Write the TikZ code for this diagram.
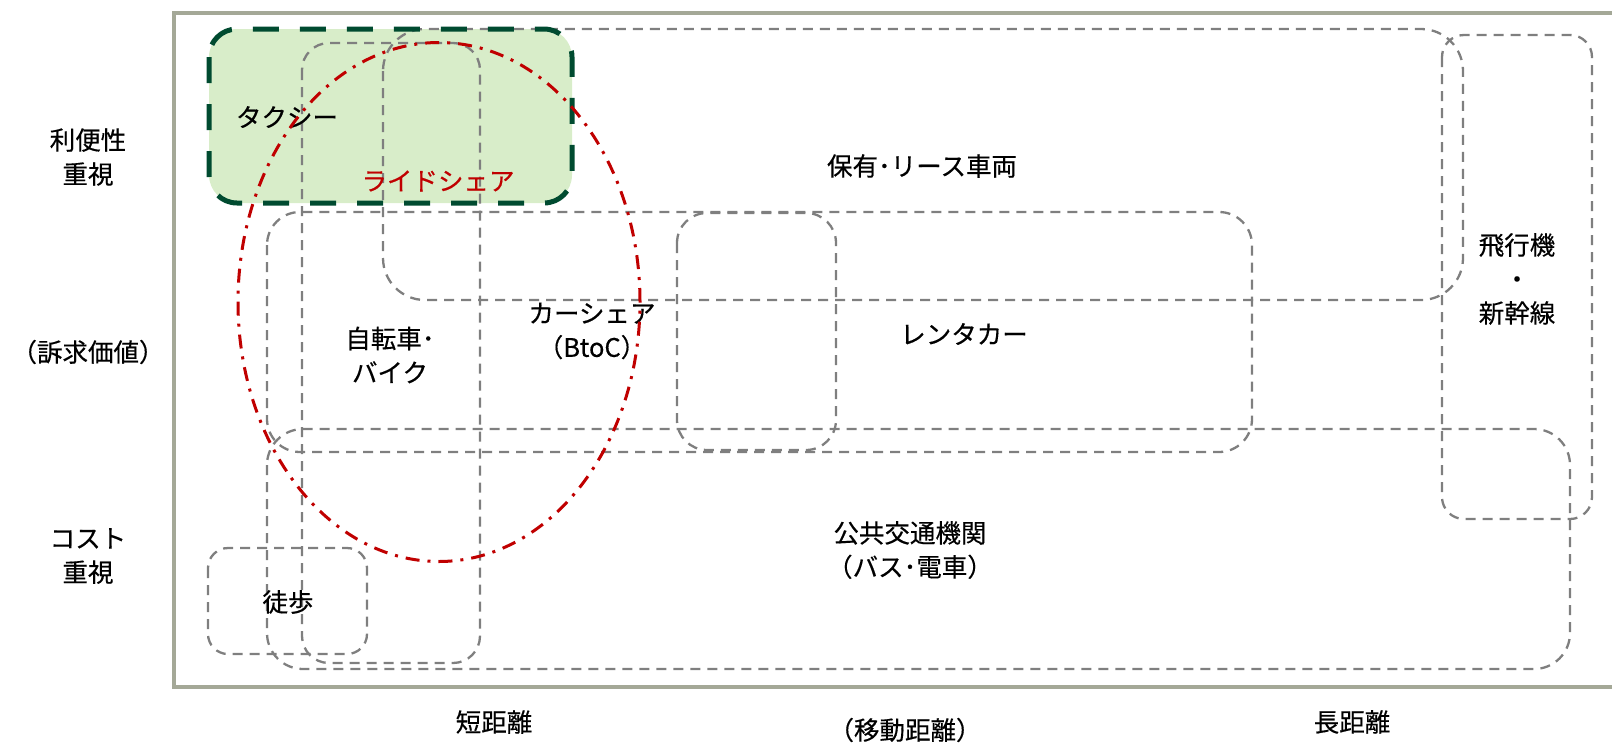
\documentclass[tikz,border=0pt]{standalone}
\usepackage{fontspec}
\setmainfont{Noto Sans CJK JP}[FakeBold=0.4]
\definecolor{dgray}{HTML}{7F7F7F}
\definecolor{framec}{HTML}{A4A897}
\definecolor{taxifill}{HTML}{D8EDC9}
\definecolor{taxiborder}{HTML}{004B30}
\definecolor{rsred}{HTML}{C00000}
\begin{document}
\begin{tikzpicture}[x=1pt,y=-1pt,
  gbox/.style={draw=dgray, line width=2.3pt, dash pattern=on 10pt off 7pt},
  lbl/.style={font=\fontsize{25.5}{34}\selectfont, align=center, inner sep=0pt, text=black},
  redlbl/.style={lbl, text=rsred},
  rideshare/.style={draw=rsred, line width=3pt, dash pattern=on 14pt off 8pt on 3pt off 8pt},
  taxiframe/.style={draw=taxiborder, line width=5pt, dash pattern=on 26pt off 21pt, rounded corners=28pt},
  outer/.style={draw=framec, line width=4.5pt}
]
\useasboundingbox (0,0) rectangle (1612,742);
% green fill of the taxi area
\fill[taxifill, rounded corners=28pt] (209,29) rectangle (572,203);
% outer frame
\draw[outer] (174,13) rectangle (1625,687);
% grey dashed boxes
\draw[gbox, rounded corners=42pt] (383,29) rectangle (1463,300);   % owned / lease
\draw[gbox, rounded corners=27pt] (302,43) rectangle (480,663);    % short column
\draw[gbox, rounded corners=33pt] (267,212) rectangle (1252,452);  % rental
\draw[gbox, rounded corners=30pt] (677,213) rectangle (836,450);   % middle box
\draw[gbox, rounded corners=36pt] (267,429) rectangle (1570,669);  % public transport
\draw[gbox, rounded corners=20pt] (208,548) rectangle (367,654);   % walking
\draw[gbox, rounded corners=22pt] (1442,35) rectangle (1592,519);  % plane / shinkansen
% taxi border
\draw[taxiframe] (209,29) rectangle (572,203);
% labels
\node[lbl] (taxi) at (287,117) {タクシー};
\node[lbl] (hoyu) at (922,166) {保有･リース車両};
\node[lbl] (plane) at (1517,279) {飛行機\\・\\新幹線};
\node[lbl] (bike) at (390,355) {自転車･\\バイク};
\node[lbl] (carshare) at (592,331) {カーシェア\\（BtoC）};
\node[lbl] (rental) at (964,334) {レンタカー};
\node[lbl] (public) at (910,550) {公共交通機関\\（バス･電車）};
\node[lbl] (walk) at (288,602) {徒歩};
\node[lbl] (conv) at (88,157) {利便性\\重視};
\node[lbl] (value) at (88,352) {（訴求価値）};
\node[lbl] (cost) at (88,556) {コスト\\重視};
\node[lbl] (short) at (494,722) {短距離};
\node[lbl] (dist) at (905,730) {（移動距離）};
\node[lbl] (long) at (1352,722) {長距離};
% ride share ellipse
\draw[rideshare] (439,302) ellipse [x radius=201pt, y radius=259.5pt];
\node[redlbl] (ride) at (438,181) {ライドシェア};
\end{tikzpicture}
\end{document}
